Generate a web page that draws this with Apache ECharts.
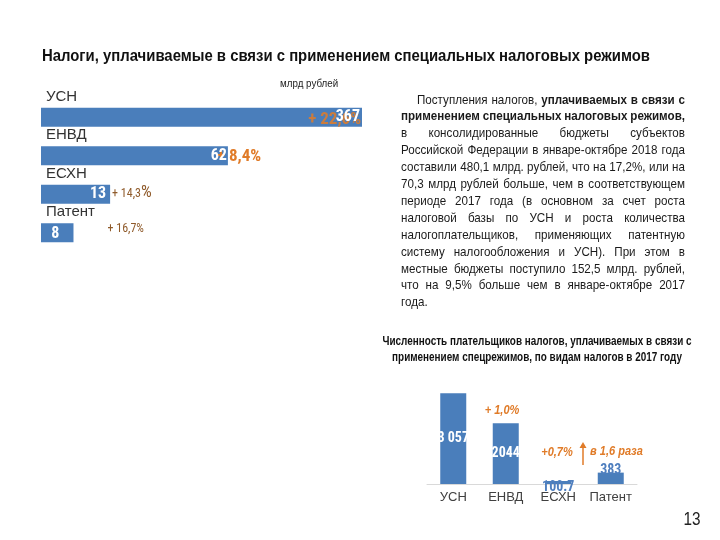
<!DOCTYPE html>
<html>
<head>
<meta charset="utf-8">
<script src="https://cdn.jsdelivr.net/npm/echarts@6/dist/echarts.min.js"></script>
<style>html,body{margin:0;padding:0;background:#fff}#c{width:720px;height:540px}</style>
</head>
<body>
<div id="c"></div>
<script>
// ---------- DATA ----------
const titleMain = 'Налоги, уплачиваемые в связи с применением специальных налоговых режимов';
const unitLabel = 'млрд рублей';
const catsL = ['УСН', 'ЕНВД', 'ЕСХН', 'Патент'];
const revenue = [367, 62, 13, 8];
const growthL = ['+ 22,6%', '+ 8,4%', '+ 14,3%', '+ 16,7%'];

const titleRight = ['Численность плательщиков налогов, уплачиваемых в связи с', 'применением спецрежимов, по видам налогов в 2017 году'];
const catsR = ['УСН', 'ЕНВД', 'ЕСХН', 'Патент'];
const payers = [3057, 2044, 100.7, 383];
const payerLabels = ['3 057', '2044', '100.7', '383'];
const notesR = ['', '+ 1,0%', '+0,7%', 'в 1,6 раза'];
const pageNumber = '13';

// paragraph lines: words; words wrapped in * are bold
const paraLines = [
  'Поступления налогов, *уплачиваемых* *в* *связи* *с*',
  '*применением* *специальных* *налоговых* *режимов,*',
  'в консолидированные бюджеты субъектов',
  'Российской Федерации в январе-октябре 2018 года',
  'составили 480,1 млрд. рублей, что на 17,2%, или на',
  '70,3 млрд рублей больше, чем в соответствующем',
  'периоде 2017 года (в основном за счет роста',
  'налоговой базы по УСН и роста количества',
  'налогоплательщиков, применяющих патентную',
  'систему налогообложения и УСН). При этом в',
  'местные бюджеты поступило 152,5 млрд. рублей,',
  'что на 9,5% больше чем в январе-октябре 2017',
  'года.'
];

// ---------- STYLE ----------
const FF = '"Liberation Sans Narrow","Arial Narrow","Roboto Condensed","Liberation Sans",sans-serif';
const AR = '"Liberation Sans",Arial,sans-serif';
const BLUE = '#4a7ebb';
const ORANGE = '#e07b28';
const BROWN = '#8f5a2a';

const chart = echarts.init(document.getElementById('c'), null, {renderer: 'canvas'});

const cv = document.createElement('canvas').getContext('2d');
function measure(t, font) { cv.font = font; return cv.measureText(t).width; }
function T(x, y, text, font, fill, sx, align) {
  return {type: 'text', x: x, y: y, scaleX: sx,
          style: {text: text, font: font, fill: fill, align: align || 'left', verticalAlign: 'middle'}};
}

const graphics = [];
// ---- justified paragraph ----
const paraSize = 13;
const pxL = 401, pxR = 685, pTop = 100, pStep = 16.9, indent = 16;
const pFont = b => (b ? 'bold ' : '') + paraSize + 'px ' + AR;
const parsed = paraLines.map(line => line.split(' ').map(w => {
  const b = /^\*.*\*$/.test(w);
  return {t: b ? w.slice(1, -1) : w, f: pFont(b)};
}));
const spaceW = measure(' ', pFont(false));
let psx = 1;
parsed.forEach((words, i) => {
  if (i === parsed.length - 1) return;
  const nat = words.reduce((a, w) => a + measure(w.t, w.f), 0) + spaceW * 0.9 * (words.length - 1);
  const avail = pxR - pxL - (i === 0 ? indent : 0);
  psx = Math.min(psx, avail / nat);
});
parsed.forEach((words, i) => {
  const start = i === 0 ? pxL + indent : pxL;
  const widths = words.map(w => measure(w.t, w.f) * psx);
  const sum = widths.reduce((a, b) => a + b, 0);
  const last = i === parsed.length - 1;
  const gap = last ? spaceW * psx : (pxR - start - sum) / (words.length - 1);
  let x = start;
  words.forEach((w, k) => {
    graphics.push(T(x, pTop + i * pStep, w.t, w.f, '#1a1a1a', psx));
    x += widths[k] + gap;
  });
});

// ---- titles / annotations ----
const tFont = 'bold 16px ' + AR;
const tsx = 608 / measure(titleMain, tFont);
const rFont = 'bold 12px ' + AR;
const rsx = 309 / measure(titleRight[0], rFont);
graphics.push(
  T(42, 57, titleMain, tFont, '#111', tsx),
  T(280, 84, unitLabel, '11.5px ' + AR, '#222', 0.85),
  T(537, 342, titleRight[0], rFont, '#111', rsx, 'center'),
  T(537, 358, titleRight[1], rFont, '#111', rsx, 'center'),
  T(692, 520, pageNumber, '18px ' + AR, '#222', 0.85, 'center'),
  T(502, 410, notesR[1], 'italic bold 13px ' + AR, ORANGE, 0.85, 'center'),
  T(557, 452, notesR[2], 'italic bold 13px ' + AR, ORANGE, 0.85, 'center'),
  T(590, 451, notesR[3], 'italic bold 13px ' + AR, ORANGE, 0.85),
  {type: 'line', shape: {x1: 583, y1: 465, x2: 583, y2: 446}, style: {stroke: ORANGE, lineWidth: 1.5}},
  {type: 'polygon', shape: {points: [[579.5, 448], [586.5, 448], [583, 442]]}, style: {fill: ORANGE}}
);

const growthLabelCfg = [
  {position: 'insideRight', distance: 1, offset: [0, 2], color: 'rgba(224,123,40,0.85)', fontSize: 17, fontWeight: 'bold'},
  {position: 'right', distance: 0, offset: [-11, 1], color: ORANGE, fontSize: 17, fontWeight: 'bold'},
  {position: 'right', distance: 2, offset: [0, 0], color: BROWN, fontSize: 12,
   formatter: p => '{s|' + p.data.t.replace('%', '') + '}{b|%}'},
  {position: 'right', distance: 34, offset: [0, -4], color: BROWN, fontSize: 12}
];
const valueLabelCfg = [
  {position: 'insideRight', distance: 2},
  {position: 'insideRight', distance: 1},
  {position: 'insideRight', distance: 4},
  {position: 'inside', offset: [-2, 1]}
];
const payerLabelCfg = [
  {position: 'inside', color: '#fff'},
  {position: 'inside', color: '#fff'},
  {position: 'top', distance: -13, color: '#4f7fbf'},
  {position: 'top', distance: -5, color: '#4f7fbf'}
];

chart.setOption({
  animation: false,
  textStyle: {fontFamily: FF},
  graphic: graphics,
  grid: [
    {left: 41, width: 321, top: 98, height: 154, containLabel: false},
    {left: 427, width: 210, top: 383, height: 101}
  ],
  xAxis: [
    {gridIndex: 0, type: 'log', logBase: 10, min: 5.2, max: 367, show: false},
    {gridIndex: 1, type: 'category', data: catsR,
     axisLine: {lineStyle: {color: '#d9d9d9'}}, axisTick: {show: false},
     axisLabel: {interval: 0, color: '#404040', fontSize: 13, margin: 7, fontFamily: AR}}
  ],
  yAxis: [
    {gridIndex: 0, type: 'category', data: catsL, inverse: true,
     axisLine: {show: false}, axisTick: {show: false},
     axisLabel: {interval: 0, inside: true, margin: 5, align: 'left', verticalAlign: 'bottom', padding: [0, 0, 13, 0],
                 color: '#333', fontSize: 15, fontFamily: AR}},
    {gridIndex: 1, type: 'value', min: 0, max: 3400, show: false}
  ],
  series: [
    {type: 'bar', xAxisIndex: 0, yAxisIndex: 0, data: revenue, barWidth: 19, clip: true, z: 2,
     itemStyle: {color: BLUE}, silent: true},
    {type: 'bar', xAxisIndex: 0, yAxisIndex: 0, barGap: '-100%', barWidth: 19, clip: true, z: 3,
     itemStyle: {color: 'rgba(0,0,0,0)'},
     data: revenue.map((v, i) => ({value: v, t: growthL[i], label: Object.assign({show: true}, growthLabelCfg[i])})),
     label: {show: true, fontFamily: FF, formatter: p => p.data.t,
             rich: {s: {fontSize: 12, color: BROWN, fontFamily: FF}, b: {fontSize: 17, color: BROWN, fontFamily: FF, padding: [0, 0, 3, 0]}}}},
    {type: 'bar', xAxisIndex: 0, yAxisIndex: 0, barGap: '-100%', barWidth: 19, clip: true, z: 4,
     itemStyle: {color: 'rgba(0,0,0,0)'},
     data: revenue.map((v, i) => ({value: v, label: Object.assign({show: true}, valueLabelCfg[i])})),
     label: {show: true, color: '#fff', fontWeight: 'bold', fontSize: 16, fontFamily: FF}},
    {type: 'bar', xAxisIndex: 1, yAxisIndex: 1, barWidth: 26, itemStyle: {color: BLUE},
     data: payers.map((v, i) => ({value: v, label: Object.assign({show: true}, payerLabelCfg[i])})),
     label: {show: true, fontWeight: 'bold', fontSize: 14, fontFamily: FF, formatter: p => payerLabels[p.dataIndex]}}
  ]
});
</script>
</body>
</html>
